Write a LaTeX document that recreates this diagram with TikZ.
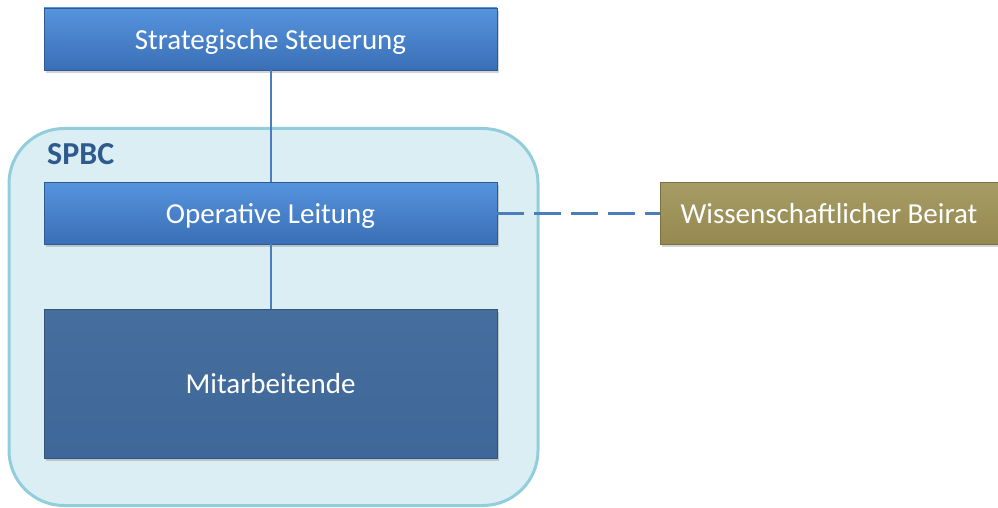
\documentclass[tikz,border=0pt]{standalone}
\usepackage{fontspec}
\setmainfont{Carlito}
\usetikzlibrary{shadows}
\definecolor{boxtop}{HTML}{5694DE}
\definecolor{boxbot}{HTML}{3A6FB6}
\definecolor{mitfill}{HTML}{3E6899}
\definecolor{oltop}{HTML}{A89C66}
\definecolor{olbot}{HTML}{958951}
\definecolor{contfill}{HTML}{DAEEF3}
\definecolor{contline}{HTML}{92CDDC}
\definecolor{linkcol}{HTML}{4A7EBB}
\definecolor{labelcol}{HTML}{2E5A8E}
\tikzset{
  orgbox/.style={rectangle, inner sep=0pt, minimum width=453pt, minimum height=62pt,
    top color=boxtop, bottom color=boxbot, draw=boxbot!80!black, line width=0.6pt,
    text=white, font=\fontsize{29}{33}\selectfont, text depth=0pt,
    drop shadow={shadow xshift=2pt, shadow yshift=-3pt, opacity=0.35}},
  staffbox/.style={orgbox, top color=mitfill!96!white, bottom color=mitfill, draw=mitfill!80!black,
    minimum height=149pt},
  advbox/.style={orgbox, top color=oltop, bottom color=olbot, draw=olbot!80!black,
    minimum width=338pt},
  container/.style={rectangle, rounded corners=55pt, fill=contfill, draw=contline,
    line width=3pt, minimum width=529pt, minimum height=377pt, inner sep=0pt},
  link/.style={draw=linkcol, line width=2pt},
  dashlink/.style={draw=linkcol, line width=3pt, dash pattern=on 27pt off 10pt}
}
\begin{document}
\begin{tikzpicture}[x=1pt,y=-1pt]
  \useasboundingbox (0,0) rectangle (998,508);
  \node[container] (spbc) at (273.5,317) {};
  \node[anchor=west, text=labelcol, font=\bfseries\fontsize{32}{36}\selectfont, inner sep=0pt] (spbclabel) at (47,154) {SPBC};
  \node[orgbox] (strat) at (270.5,39) {Strategische Steuerung};
  \node[orgbox] (oper) at (270.5,213) {Operative Leitung};
  \node[staffbox] (mit) at (270.5,383.5) {Mitarbeitende};
  \node[advbox] (beirat) at (829,213) {Wissenschaftlicher Beirat};
  \draw[link] (strat.south) -- (oper.north);
  \draw[link] (oper.south) -- (mit.north);
  \draw[dashlink] (oper.east) -- (beirat.west);
\end{tikzpicture}
\end{document}
